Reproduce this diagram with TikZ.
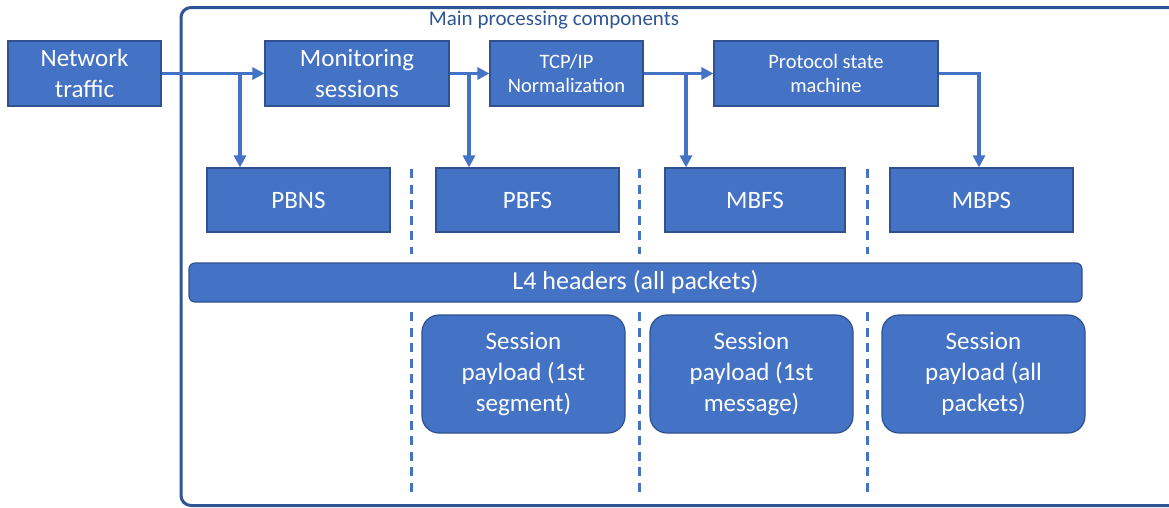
\documentclass[tikz,border=0pt]{standalone}
\usepackage{fontspec}
\setmainfont{Carlito}
\usetikzlibrary{arrows.meta}
\definecolor{boxblue}{HTML}{4472C4}
\definecolor{edgeblue}{HTML}{2F528F}
\definecolor{darkblue}{HTML}{2F5597}
\begin{document}
\begin{tikzpicture}[x=1pt, y=-1pt,
    blk/.style={draw=edgeblue, line width=1.2pt, fill=boxblue, text=white, align=center, inner sep=0pt,
        font=\fontsize{25}{31}\selectfont},
    stage/.style={blk, minimum width=153pt, minimum height=65pt},
    small/.style={font=\fontsize{20.5}{24.5}\selectfont},
    store/.style={blk, minimum width=183pt, minimum height=64pt},
    payload/.style={blk, rounded corners=17pt, minimum width=203pt, minimum height=118pt},
    flow/.style={boxblue, line width=3.5pt, -{Triangle[length=12pt,width=12pt]}},
    sep/.style={boxblue, line width=3pt, dash pattern=on 9pt off 6.5pt}]
    \useasboundingbox (0,0) rectangle (1169,507);
    \clip (0,0) rectangle (1169,507);

    \draw[darkblue, line width=3pt, rounded corners=10pt] (181,7.5) rectangle (1300,505.5);
    \node[text=darkblue, font=\fontsize{21}{25}\selectfont] (title) at (554,20) {Main processing components};

    \node[stage] (net) at (84.5,73.5) {Network\\traffic};
    \node[stage, minimum width=184pt] (mon) at (357,73.5) {Monitoring\\sessions};
    \node[stage, small] (norm) at (566.5,73.5) {TCP/IP\\Normalization};
    \node[stage, small, minimum width=224pt] (psm) at (826,73.5) {Protocol state\\machine};

    \node[store] (pbns) at (298.5,200) {PBNS};
    \node[store] (pbfs) at (527.5,200) {PBFS};
    \node[store, minimum width=180pt] (mbfs) at (755,200) {MBFS};
    \node[store] (mbps) at (981.5,200) {MBPS};

    \node[blk, rounded corners=6pt, minimum width=893pt, minimum height=39pt,
        font=\fontsize{26}{30}\selectfont] (l4) at (635.5,282.5) {L4 headers (all packets)};

    \node[payload] (seg) at (523.5,374) {Session\\payload (1st\\segment)};
    \node[payload] (msg) at (751.5,374) {Session\\payload (1st\\message)};
    \node[payload] (all) at (983.5,374) {Session\\payload (all\\packets)};

    \coordinate (b1) at (240,73.5);
    \coordinate (b2) at (469,73.5);
    \coordinate (b3) at (686,73.5);
    \coordinate (b4) at (979,73.5);

    \draw[flow] (net.east) -- (mon.west);
    \draw[flow] (mon.east) -- (norm.west);
    \draw[flow] (norm.east) -- (psm.west);
    \draw[flow] (psm.east) -- (b4) -- (b4 |- mbps.north);
    \foreach \b/\s in {b1/pbns, b2/pbfs, b3/mbfs}
        \draw[flow] (\b) -- (\b |- \s.north);

    \foreach \x in {411,639,867} {
        \draw[sep] (\x,169) -- (\x,254);
        \draw[sep] (\x,312) -- (\x,492);
    }
\end{tikzpicture}
\end{document}
